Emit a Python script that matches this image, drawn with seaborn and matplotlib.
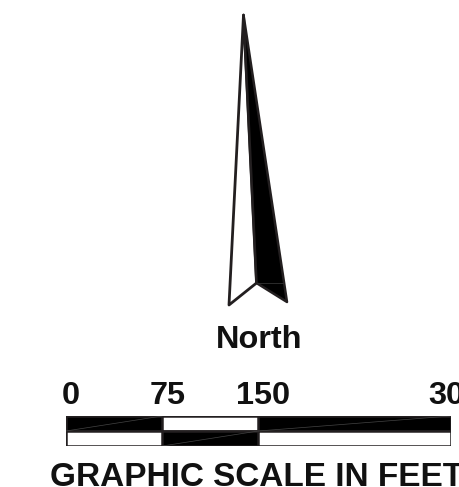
import matplotlib
matplotlib.use("Agg")
import matplotlib.pyplot as plt
from matplotlib.transforms import ScaledTranslation
import seaborn as sns

sns.set_style("white")
plt.rcParams['font.family'] = ['Liberation Sans', 'DejaVu Sans']

# Scale bar data (feet)
scale_ticks = [0, 75, 150, 300]
scale_labels = ['0', '75', '150', '300']
rows = ['top', 'bottom']
segment_ends = [300, 150, 75]
top_colors = ['#000000', '#ffffff', '#000000']
bottom_colors = ['#ffffff', '#000000', '#ffffff']
top_seams_x = [[0, 75], [150, 300]]
bottom_seams_x = [[75, 150]]

# North arrow outline (figure pixels)
left_vane_x = [243.5, 229, 256.5]
left_vane_y = [15, 305, 283]
right_vane_x = [243.5, 256.5, 287]
right_vane_y = [15, 283, 302]
INK = '#231f20'
W, H = 459, 487

fig = plt.figure(figsize=(W / 100, H / 100), dpi=100, facecolor='white')

# arrow axes in pixel coordinates
bg = fig.add_axes([0, 0, 1, 1])
bg.set_xlim(0, W)
bg.set_ylim(H, 0)
bg.axis('off')
bg.fill(left_vane_x, left_vane_y, facecolor='white', edgecolor=INK, lw=2.0, joinstyle='round')
bg.fill(right_vane_x, right_vane_y, facecolor='black', edgecolor=INK, lw=1.8, joinstyle='round')
sns.lineplot(x=[256.5, 283], y=[283, 283], sort=False, estimator=None, color='#333333', lw=0.6, ax=bg)
bg.text(259, 340, 'North', ha='center', va='center', fontsize=23.4, fontweight='bold', color='#111111')
bg.text(50, 477, 'GRAPHIC SCALE IN FEET', ha='left', va='center', fontsize=24, fontweight='bold',
        color='#111111', clip_on=False)

# scale bar axes
ax = fig.add_axes([66 / W, 1 - 446 / H, (450.7 - 66) / W, 30 / H])
ax.patch.set_alpha(0)
for end, tc, bc in zip(segment_ends, top_colors, bottom_colors):
    sns.barplot(x=[end, end], y=rows, hue=rows, palette={'top': tc, 'bottom': bc},
                order=rows, hue_order=rows, dodge=False, width=1, legend=False,
                edgecolor=INK, linewidth=1.8, orient='h', ax=ax)
for xs in top_seams_x:
    sns.lineplot(x=xs, y=[0.5, -0.5], sort=False, estimator=None, color='#444444', lw=0.5, ax=ax)
for xs in bottom_seams_x:
    sns.lineplot(x=xs, y=[1.5, 0.5], sort=False, estimator=None, color='#444444', lw=0.5, ax=ax)
ax.set_xlim(0, 300)
ax.set_ylim(1.5, -0.5)
ax.set_yticks([])
ax.set_ylabel('')
ax.set_xticks(scale_ticks)
ax.set_xticklabels(scale_labels, fontsize=23.4, fontweight='bold', color='#111111')
ax.xaxis.tick_top()
ax.tick_params(axis='x', length=0, pad=3.5)
shift = ScaledTranslation(5 / 100, 0, fig.dpi_scale_trans)
for lab in ax.get_xticklabels():
    lab.set_transform(lab.get_transform() + shift)
for s in ax.spines.values():
    s.set_visible(False)

fig.savefig('out.png', dpi=100)
